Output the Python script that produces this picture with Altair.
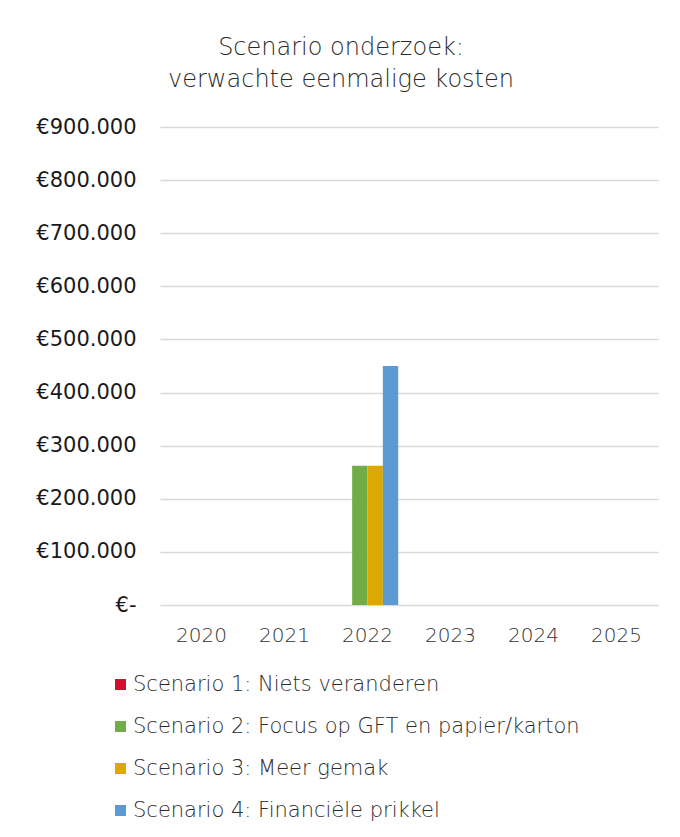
import altair as alt
import pandas as pd

years = ["2020", "2021", "2022", "2023", "2024", "2025"]
scenarios = [
    "Scenario 1:  Niets veranderen",
    "Scenario 2:  Focus op GFT en papier/karton",
    "Scenario 3:  Meer gemak",
    "Scenario 4:  Financiële prikkel",
]
colors = ["#D2102E", "#70AD47", "#DDA800", "#5B9BD5"]
values = {
    scenarios[0]: [0, 0, 0, 0, 0, 0],
    scenarios[1]: [0, 0, 262000, 0, 0, 0],
    scenarios[2]: [0, 0, 262000, 0, 0, 0],
    scenarios[3]: [0, 0, 450000, 0, 0, 0],
}

rows = []
for s in scenarios:
    for y, v in zip(years, values[s]):
        rows.append({"Jaar": y, "Scenario": s, "Kosten": v})
df = pd.DataFrame(rows)

FONT = "DejaVu Sans"

chart = alt.Chart(df).mark_bar().encode(
    x=alt.X("Jaar:N", sort=years, title=None,
            scale=alt.Scale(paddingInner=0.26, paddingOuter=0.13),
            axis=alt.Axis(labelAngle=0, ticks=False, domain=False, labelPadding=20,
                          labelFontSize=20, labelFontWeight=200, labelColor="#333333", labelFont=FONT)),
    xOffset=alt.XOffset("Scenario:N", sort=scenarios, scale=alt.Scale(paddingInner=0, paddingOuter=0)),
    y=alt.Y("Kosten:Q", title=None,
            scale=alt.Scale(domain=[0, 900000], nice=False),
            axis=alt.Axis(values=[0, 100000, 200000, 300000, 400000, 500000, 600000, 700000, 800000, 900000],
                          labelExpr="datum.value == 0 ? '€-' : '€' + replace(format(datum.value, ',.0f'), regexp(',', 'g'), '.')",
                          ticks=False, domain=False, labelPadding=24, labelFontSize=21,
                          labelFontWeight="normal", labelColor="#1a1a1a", labelFont=FONT,
                          gridColor="#D9D9D9", gridWidth=1.5)),
    color=alt.Color("Scenario:N", sort=scenarios,
                    scale=alt.Scale(domain=scenarios, range=colors),
                    legend=alt.Legend(title=None, orient="none", legendX=-50, legendY=547,
                                      direction="vertical", symbolType="square", symbolSize=121,
                                      symbolStrokeWidth=0, labelFontSize=21, labelFontWeight=200,
                                      labelColor="#2b2b2b",
                                      labelFont=FONT, rowPadding=20, labelOffset=2, labelLimit=600)),
).properties(
    width=498,
    height=478,
    autosize=alt.AutoSizeParams(type="none"),
    padding={"left": 152, "top": 119, "right": 14, "bottom": 220},
    title=alt.TitleParams(
        ["Scenario onderzoek:", "verwachte eenmalige kosten"],
        fontSize=24, fontWeight=200, color="#2b2b2b", font=FONT,
        anchor="middle", dx=-68, offset=24, lineHeight=32,
    ),
).configure_view(stroke=None)

chart.save("out.html", embed_options={"renderer": "svg", "actions": False})
